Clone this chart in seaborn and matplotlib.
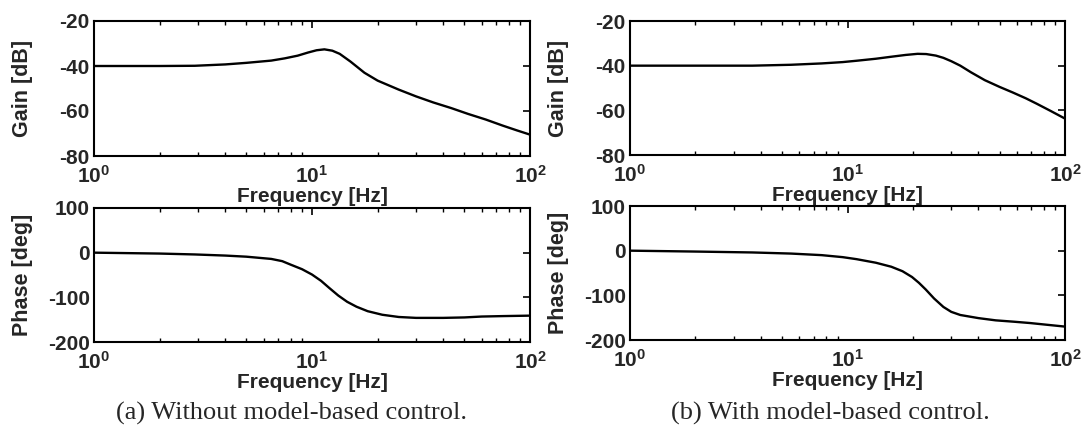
import numpy as np
import pandas as pd
import matplotlib
matplotlib.use("Agg")
import matplotlib.pyplot as plt
import seaborn as sns

# Frequency response without model-based control
freq_a_gain = [1.0, 2.0, 2.9, 4.0, 5.0, 6.5, 7.5, 8.6, 9.6, 10.5, 11.4, 12.4, 13.4, 15.0, 17.4, 20.0, 25.0, 30.0, 36.0, 43.5, 52.0, 62.7, 75.0, 87.0, 100.0]
gain_a = [-40.0, -40.0, -39.9, -39.3, -38.6, -37.6, -36.6, -35.4, -34.0, -33.0, -32.6, -33.2, -34.6, -38.0, -43.0, -46.5, -50.5, -53.5, -56.2, -58.7, -61.3, -63.8, -66.5, -68.6, -70.5]

freq_a_phase = [1.0, 2.0, 2.9, 4.0, 5.0, 6.5, 7.3, 8.0, 9.0, 10.0, 11.0, 12.0, 13.2, 14.5, 16.0, 18.0, 21.0, 25.0, 30.0, 40.0, 50.0, 60.0, 75.0, 100.0]
phase_a = [0.0, -2.0, -4.0, -6.5, -9.0, -14.0, -19.0, -27.0, -37.0, -49.0, -63.0, -79.0, -96.0, -110.0, -121.0, -131.0, -139.0, -144.0, -146.0, -146.0, -145.0, -143.0, -142.0, -141.0]

# Frequency response with model-based control
freq_b_gain = [1.0, 2.0, 3.65, 5.5, 7.6, 9.5, 11.0, 13.5, 15.9, 18.5, 21.0, 23.0, 25.5, 27.6, 30.0, 33.0, 37.0, 42.8, 50.0, 57.5, 66.0, 74.0, 86.0, 100.0]
gain_b = [-40.0, -40.0, -40.0, -39.6, -39.0, -38.4, -37.8, -36.9, -36.0, -35.2, -34.7, -34.8, -35.5, -36.5, -38.0, -40.0, -43.0, -46.5, -49.5, -52.0, -54.6, -57.0, -60.3, -63.7]

freq_b_phase = [1.0, 2.0, 3.65, 5.5, 7.6, 9.5, 11.0, 13.5, 15.9, 17.9, 19.8, 21.3, 22.9, 25.0, 27.6, 30.0, 33.0, 40.0, 48.0, 58.0, 69.0, 83.0, 100.0]
phase_b = [0.0, -2.0, -4.0, -6.5, -10.0, -14.5, -19.0, -27.0, -36.0, -46.0, -59.0, -72.0, -87.0, -107.0, -126.0, -137.0, -144.0, -151.0, -156.0, -159.0, -162.0, -166.0, -170.0]

gain_ticks = [-80, -60, -40, -20]
phase_ticks = [-200, -100, 0, 100]
freq_label = "Frequency [Hz]"
captions = ["(a) Without model-based control.", "(b) With model-based control."]

sns.set_style("white")
plt.rcParams["font.family"] = ["Liberation Sans", "DejaVu Sans"]
plt.rcParams["font.weight"] = "bold"
plt.rcParams["mathtext.fontset"] = "custom"
plt.rcParams["mathtext.rm"] = "Liberation Sans:bold"
plt.rcParams["mathtext.it"] = "Liberation Sans:bold"
plt.rcParams["mathtext.bf"] = "Liberation Sans:bold"
plt.rcParams["axes.unicode_minus"] = False

W, H = 1088, 432
fig = plt.figure(figsize=(W / 100, H / 100), dpi=100)


def px_axes(x0, y0, x1, y1):
    return fig.add_axes([x0 / W, 1 - y1 / H, (x1 - x0) / W, (y1 - y0) / H])


def style(ax, ylim, yticks, ylabel, x0, x1):
    ax.set_xscale("log")
    ax.set_xlim(1, 100)
    ax.set_ylim(*ylim)
    ax.set_yticks(yticks)
    ax.set_xlabel(freq_label, fontsize=15, labelpad=0, fontweight="bold")
    ax.set_ylabel(ylabel, fontsize=15.5, fontweight="bold")
    # keep the y labels of both rows on one vertical line
    ax.yaxis.set_label_coords(-61 / (x1 - x0), 0.5)
    ax.tick_params(axis="both", which="major", direction="in", length=5, width=1.2,
                   top=True, right=True, labelsize=15, color="black", pad=3)
    ax.tick_params(axis="x", which="minor", direction="in", length=3, width=1.0,
                   top=True, bottom=True, color="black")
    ax.tick_params(axis="x", which="major", pad=6.5)
    for s in ax.spines.values():
        s.set_visible(True)
        s.set_color("black")
        s.set_linewidth(1.5)
    ax.set_facecolor("white")


panels = [
    (94, 530, (21, 156), (208, 342), freq_a_gain, gain_a, freq_a_phase, phase_a, 291),
    (630, 1065, (21, 155), (206, 340), freq_b_gain, gain_b, freq_b_phase, phase_b, 830),
]

for i, (x0, x1, top_y, bot_y, fg, g, fp, p, cap_x) in enumerate(panels):
    ax_g = px_axes(x0, top_y[0], x1, top_y[1])
    sns.lineplot(data=pd.DataFrame({"f": fg, "v": g}), x="f", y="v", ax=ax_g,
                 color="black", linewidth=1.7)
    style(ax_g, (-80, -20), gain_ticks, "Gain [dB]", x0, x1)

    ax_p = px_axes(x0, bot_y[0], x1, bot_y[1])
    sns.lineplot(data=pd.DataFrame({"f": fp, "v": p}), x="f", y="v", ax=ax_p,
                 color="black", linewidth=1.7)
    style(ax_p, (-200, 100), phase_ticks, "Phase [deg]", x0, x1)

    fig.text(cap_x / W, 1 - 413 / H, captions[i], ha="center", va="center",
             fontsize=19, family="Liberation Serif", fontweight="normal")

fig.savefig("out.png", dpi=100)
